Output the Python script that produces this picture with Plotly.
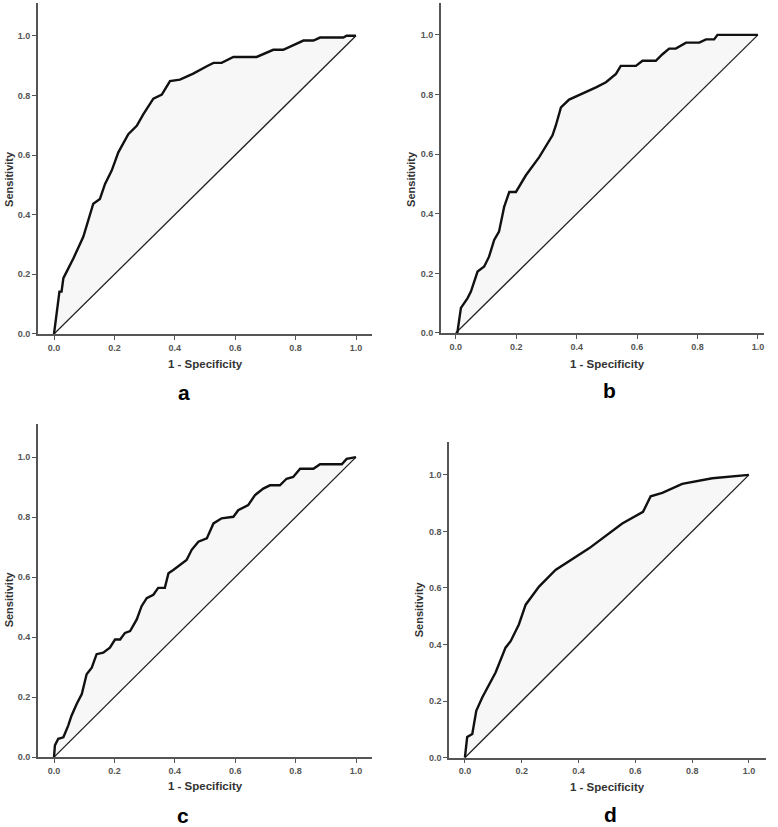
import plotly.graph_objects as go

W, H = 778, 827

# ROC data
a_fpr = [0, 0.009, 0.018, 0.025, 0.031, 0.042, 0.064, 0.097, 0.114, 0.13, 0.152, 0.169, 0.191, 0.213, 0.246, 0.274, 0.296, 0.329, 0.357, 0.384, 0.417, 0.461, 0.506, 0.528, 0.555, 0.594, 0.671, 0.726, 0.759, 0.826, 0.859, 0.881, 0.958, 0.969, 1.0]
a_tpr = [0, 0.076, 0.142, 0.142, 0.187, 0.209, 0.253, 0.326, 0.387, 0.437, 0.453, 0.503, 0.548, 0.609, 0.67, 0.698, 0.737, 0.789, 0.803, 0.848, 0.853, 0.873, 0.898, 0.909, 0.909, 0.929, 0.929, 0.953, 0.953, 0.984, 0.984, 0.994, 0.994, 1.0, 1.0]

b_fpr = [0, 0.005, 0.017, 0.039, 0.05, 0.072, 0.094, 0.11, 0.127, 0.143, 0.16, 0.177, 0.199, 0.232, 0.276, 0.32, 0.331, 0.348, 0.375, 0.419, 0.464, 0.497, 0.53, 0.546, 0.596, 0.618, 0.662, 0.684, 0.706, 0.728, 0.762, 0.806, 0.828, 0.855, 0.866, 1.0]
b_tpr = [0, 0.0, 0.084, 0.117, 0.139, 0.206, 0.223, 0.256, 0.312, 0.34, 0.423, 0.473, 0.473, 0.529, 0.59, 0.663, 0.696, 0.757, 0.783, 0.802, 0.824, 0.841, 0.869, 0.896, 0.896, 0.913, 0.913, 0.935, 0.954, 0.954, 0.974, 0.974, 0.985, 0.985, 1.0, 1.0]

c_fpr = [0, 0.003, 0.014, 0.031, 0.047, 0.058, 0.075, 0.092, 0.108, 0.125, 0.141, 0.163, 0.185, 0.202, 0.219, 0.235, 0.252, 0.274, 0.29, 0.307, 0.329, 0.345, 0.367, 0.379, 0.395, 0.417, 0.439, 0.456, 0.478, 0.506, 0.528, 0.555, 0.594, 0.61, 0.643, 0.665, 0.693, 0.715, 0.748, 0.77, 0.792, 0.815, 0.859, 0.881, 0.953, 0.969, 1.0]
c_tpr = [0, 0.039, 0.061, 0.066, 0.105, 0.138, 0.177, 0.21, 0.276, 0.298, 0.343, 0.348, 0.365, 0.392, 0.392, 0.414, 0.42, 0.459, 0.503, 0.53, 0.541, 0.564, 0.564, 0.613, 0.624, 0.641, 0.657, 0.691, 0.718, 0.729, 0.779, 0.796, 0.801, 0.823, 0.84, 0.873, 0.895, 0.906, 0.906, 0.928, 0.934, 0.961, 0.961, 0.976, 0.976, 0.994, 1.0]

d_fpr = [0, 0.008, 0.026, 0.04, 0.061, 0.108, 0.143, 0.161, 0.19, 0.214, 0.261, 0.319, 0.437, 0.554, 0.627, 0.654, 0.695, 0.765, 0.871, 1.0]
d_tpr = [0, 0.073, 0.084, 0.166, 0.213, 0.301, 0.389, 0.412, 0.471, 0.541, 0.605, 0.664, 0.74, 0.828, 0.869, 0.924, 0.936, 0.968, 0.988, 1.0]

panel_labels = ["a", "b", "c", "d"]
x_title = "1 - Specificity"
y_title = "Sensitivity"
tick_vals = [0, 0.2, 0.4, 0.6, 0.8, 1.0]
tick_text = ["0.0", "0.2", "0.4", "0.6", "0.8", "1.0"]

def px_x(p):
    return p / W

def px_y(p):
    return 1 - p / H

# layout geometry per panel (page pixels)
panels = [
    dict(l=37.7, r=371.7, t=3, b=336, xr=[-0.054, 1.052], yr=[0, 1.11],
         xt=(205, 366), yt=(9, 180), lab=(184, 395)),
    dict(l=440.7, r=764, t=3, b=335, xr=[-0.05, 1.02], yr=[0, 1.107],
         xt=(607, 366), yt=(411, 180), lab=(609, 393)),
    dict(l=37.7, r=371.7, t=426.7, b=761.7, xr=[-0.054, 1.052], yr=[0, 1.11],
         xt=(205, 791), yt=(9, 603), lab=(183, 820)),
    dict(l=449, r=765.7, t=445, b=762.3, xr=[-0.056, 1.059], yr=[0, 1.115],
         xt=(607, 792), yt=(419, 613), lab=(610, 819)),
]

data = [(a_fpr, a_tpr), (b_fpr, b_tpr), (c_fpr, c_tpr), (d_fpr, d_tpr)]

fig = go.Figure()
layout = dict(
    width=W, height=H, margin=dict(l=0, r=0, t=0, b=0),
    paper_bgcolor="white", plot_bgcolor="white", showlegend=False,
    font=dict(family="Liberation Sans, Arial, sans-serif", color="#333"),
)
annotations = []
for i, (p, (fx, fy)) in enumerate(zip(panels, data)):
    n = "" if i == 0 else str(i + 1)
    xa, ya = "x" + n, "y" + n
    # shaded area between curve and chance diagonal
    fig.add_trace(go.Scatter(x=fx, y=fy, xaxis=xa, yaxis=ya, mode="lines",
                             fill="toself", fillcolor="#f7f7f7",
                             line=dict(width=0), hoverinfo="skip"))
    # diagonal reference line
    fig.add_trace(go.Scatter(x=[0, 1], y=[0, 1], xaxis=xa, yaxis=ya, mode="lines",
                             line=dict(color="#222", width=1.3)))
    # ROC curve
    fig.add_trace(go.Scatter(x=fx, y=fy, xaxis=xa, yaxis=ya, mode="lines",
                             line=dict(color="#111", width=2.4)))
    common = dict(showgrid=False, zeroline=False, showline=True, linecolor="#555",
                  linewidth=1.5, ticks="outside", ticklen=4, tickwidth=1.2,
                  tickcolor="#555", tickvals=tick_vals,
                  ticktext=["<b>" + t + "</b>" for t in tick_text],
                  tickfont=dict(size=9, color="#555",
                                family="Liberation Sans, Arial, sans-serif"))
    layout["xaxis" + n] = dict(common, domain=[px_x(p["l"]), px_x(p["r"])],
                               range=p["xr"], anchor=ya)
    layout["yaxis" + n] = dict(common, domain=[px_y(p["b"]), px_y(p["t"])],
                               range=p["yr"], anchor=xa)
    ann = dict(xref="paper", yref="paper", showarrow=False,
               xanchor="center", yanchor="middle")
    annotations.append(dict(ann, x=px_x(p["xt"][0]), y=px_y(p["xt"][1]),
                            text="<b>" + x_title + "</b>",
                            font=dict(size=11.5, color="#333")))
    annotations.append(dict(ann, x=px_x(p["yt"][0]), y=px_y(p["yt"][1]),
                            text="<b>" + y_title + "</b>", textangle=-90,
                            font=dict(size=11, color="#333")))
    annotations.append(dict(ann, x=px_x(p["lab"][0]), y=px_y(p["lab"][1]),
                            text="<b>" + panel_labels[i] + "</b>",
                            font=dict(size=21, color="#000")))
layout["annotations"] = annotations
fig.update_layout(**layout)
fig.write_html("out.html", config={"displayModeBar": False},
               post_script="document.body.style.margin='0';document.body.style.padding='0';")
